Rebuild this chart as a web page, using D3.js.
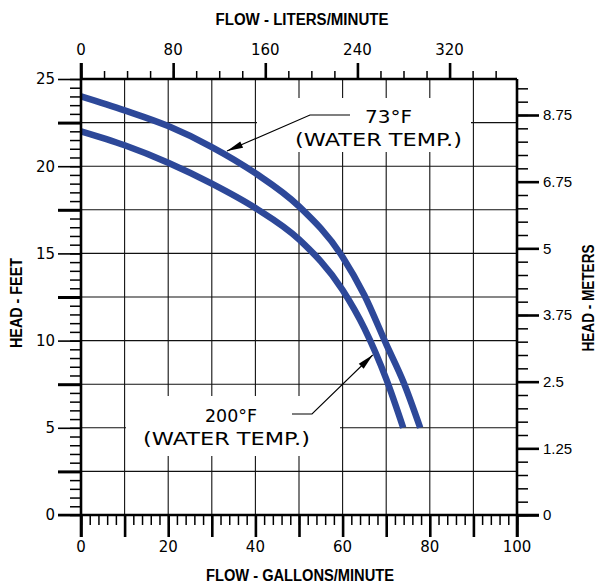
<!DOCTYPE html>
<html><head><meta charset="utf-8">
<script src="https://cdn.jsdelivr.net/npm/d3@7/dist/d3.min.js"></script>
<style>body{margin:0;background:#fff}</style>
</head><body><svg id="c" width="598" height="587"></svg>
<script>
// ---- data ----
const flow73  = [0, 10, 20, 30, 40, 50, 60, 65, 70, 74, 77.8];
const head73  = [24, 23.2, 22.3, 21.1, 19.6, 17.7, 14.8, 12.6, 9.8, 7.6, 5];
const flow200 = [0, 10, 20, 30, 40, 50, 60, 65, 70, 73.9];
const head200 = [22, 21.2, 20.2, 19.0, 17.6, 15.8, 12.9, 10.7, 7.8, 5];
const gpmLabels = [0, 20, 40, 60, 80, 100];
const lpmLabels = [0, 80, 160, 240, 320];
const feetLabels = [0, 5, 10, 15, 20, 25];
const meterLabels = ["0", "1.25", "2.5", "3.75", "5", "6.75", "8.75"];
const note73 = ["73°F", "(WATER TEMP.)"];
const note200 = ["200°F", "(WATER TEMP.)"];

const svg = d3.select("#c");
const L = 81, R = 517, T = 79, B = 515;
const x = d3.scaleLinear().domain([0, 100]).range([L, R]);
const y = d3.scaleLinear().domain([0, 25]).range([B, T]);
const xL = d3.scaleLinear().domain([0, 100 * 3.78541]).range([L, R]);
const yM = d3.scaleLinear().domain([0, 8.175]).range([B, T]);

const plotFont = "DejaVu Sans, sans-serif";
const titleFont = "Liberation Sans, Arial, sans-serif";

// ---- grid ----
const g = svg.append("g");
g.selectAll(".vg").data(d3.range(10, 100, 10)).join("line")
  .attr("x1", d => x(d)).attr("x2", d => x(d)).attr("y1", T).attr("y2", B)
  .attr("stroke", "#111").attr("stroke-width", 1.1);
g.selectAll(".hg").data(d3.range(2.5, 25, 2.5)).join("line")
  .attr("y1", d => y(d)).attr("y2", d => y(d)).attr("x1", L).attr("x2", R)
  .attr("stroke", "#111").attr("stroke-width", 1.1);

// white label boxes
svg.append("rect").attr("x", 257).attr("y", 98).attr("width", 214).attr("height", 54).attr("fill", "#fff");
svg.append("rect").attr("x", 126).attr("y", 396).attr("width", 214).attr("height", 60).attr("fill", "#fff");

// ---- curves ----
const line = d3.line().x(d => x(d[0])).y(d => y(d[1])).curve(d3.curveMonotoneX);
[[flow73, head73], [flow200, head200]].forEach(([f, h]) => {
  svg.append("path").datum(f.map((v, i) => [v, h[i]]))
    .attr("d", line).attr("fill", "none").attr("stroke", "#2d4899")
    .attr("stroke-width", 6.5).attr("stroke-linecap", "butt");
});

// ---- axes ticks ----
function style(sel, w) {
  sel.select(".domain").remove();
  sel.selectAll(".tick line").attr("stroke", "#000").attr("stroke-width", w);
  sel.selectAll(".tick text").remove();
}
// bottom
svg.append("g").attr("transform", `translate(0,${B})`)
  .call(d3.axisBottom(x).tickValues(d3.range(0, 101, 2)).tickSize(10).tickFormat(""))
  .call(s => style(s, 1.5));
svg.append("g").attr("transform", `translate(0,${B})`)
  .call(d3.axisBottom(x).tickValues(d3.range(0, 101, 10)).tickSize(22).tickFormat(""))
  .call(s => style(s, 2.6));
// top
svg.append("g").attr("transform", `translate(0,${T})`)
  .call(d3.axisTop(xL).tickValues(d3.range(0, 361, 20)).tickSize(8).tickFormat(""))
  .call(s => style(s, 1.5));
svg.append("g").attr("transform", `translate(0,${T})`)
  .call(d3.axisTop(xL).tickValues(lpmLabels).tickSize(16).tickFormat(""))
  .call(s => style(s, 2.6));
// left
svg.append("g").attr("transform", `translate(${L},0)`)
  .call(d3.axisLeft(y).tickValues(d3.range(0, 25.01, 0.5)).tickSize(11).tickFormat(""))
  .call(s => style(s, 1.5));
svg.append("g").attr("transform", `translate(${L},0)`)
  .call(d3.axisLeft(y).tickValues(d3.range(2.5, 25, 5)).tickSize(23).tickFormat(""))
  .call(s => style(s, 3));
svg.append("g").attr("transform", `translate(${L},0)`)
  .call(d3.axisLeft(y).tickValues(feetLabels).tickSize(23).tickFormat(""))
  .call(s => style(s, 1.6));
// right
svg.append("g").attr("transform", `translate(${R},0)`)
  .call(d3.axisRight(yM).tickValues(d3.range(0, 8.01, 0.25)).tickSize(11).tickFormat(""))
  .call(s => style(s, 1.5));
svg.append("g").attr("transform", `translate(${R},0)`)
  .call(d3.axisRight(yM).tickValues(meterLabels.map((d, i) => i * 1.25)).tickSize(22).tickFormat(""))
  .call(s => style(s, 2.6));

// ---- frame ----
const fr = svg.append("g").attr("stroke", "#000").attr("stroke-width", 2.6).attr("fill", "none");
fr.append("line").attr("x1", L).attr("x2", L).attr("y1", T - 16).attr("y2", B + 22);
fr.append("line").attr("x1", R).attr("x2", R).attr("y1", T).attr("y2", B + 22);
fr.append("line").attr("x1", L).attr("x2", R).attr("y1", T).attr("y2", T);
fr.append("line").attr("x1", L - 23).attr("x2", R + 22).attr("y1", B).attr("y2", B);

// ---- tick labels ----
svg.selectAll(".bl").data(gpmLabels).join("text")
  .attr("x", d => x(d)).attr("y", 552).attr("text-anchor", "middle")
  .attr("font-family", plotFont).attr("font-size", 15).text(d => d);
svg.selectAll(".tl").data(lpmLabels).join("text")
  .attr("x", d => xL(d)).attr("y", 55).attr("text-anchor", "middle")
  .attr("font-family", plotFont).attr("font-size", 15).text(d => d);
svg.selectAll(".ll").data(feetLabels).join("text")
  .attr("x", 55).attr("y", d => y(d)).attr("dy", "0.36em").attr("text-anchor", "end")
  .attr("font-family", plotFont).attr("font-size", 15).text(d => d);
svg.selectAll(".rl").data(meterLabels).join("text")
  .attr("x", 543).attr("y", (d, i) => yM(i * 1.25)).attr("dy", "0.36em")
  .attr("font-family", titleFont).attr("font-size", 15).text(d => d);

// ---- axis titles ----
function title(txt, tx, ty, rot, len) {
  svg.append("text").attr("transform", `translate(${tx},${ty}) rotate(${rot})`)
    .attr("text-anchor", "middle").attr("font-family", titleFont)
    .attr("font-weight", "bold").attr("font-size", 16)
    .attr("textLength", len).attr("lengthAdjust", "spacingAndGlyphs").text(txt);
}
title("FLOW - LITERS/MINUTE", 302, 25, 0, 173);
title("FLOW - GALLONS/MINUTE", 300, 581, 0, 188);
title("HEAD - FEET", 22, 303, -90, 90);
title("HEAD - METERS", 594, 298, -90, 107);

// ---- annotations ----
function note(lines, pos) {
  lines.forEach((t, i) => {
    svg.append("text").attr("x", pos[i][0]).attr("y", pos[i][1])
      .attr("font-family", plotFont).attr("font-size", 18)
      .attr("textLength", pos[i][2]).attr("lengthAdjust", "spacingAndGlyphs").text(t);
  });
}
note(note73, [[365, 123, 47], [295, 146, 167]]);
note(note200, [[205, 422, 52], [143, 445, 167]]);

function arrow(pts) {
  svg.append("path").attr("d", d3.line()(pts)).attr("fill", "none")
    .attr("stroke", "#000").attr("stroke-width", 1.1);
  const [x1, y1] = pts[pts.length - 2], [x2, y2] = pts[pts.length - 1];
  const a = Math.atan2(y2 - y1, x2 - x1), len = 16, w = 3.5;
  const bx = x2 - len * Math.cos(a), by = y2 - len * Math.sin(a);
  const px = -Math.sin(a) * w, py = Math.cos(a) * w;
  svg.append("path").attr("d", `M${x2},${y2}L${bx + px},${by + py}L${bx - px},${by - py}Z`)
    .attr("fill", "#000");
}
arrow([[350, 115], [310, 115], [227, 151]]);
arrow([[292, 414], [312, 414], [372.7, 355]]);
</script></body></html>
